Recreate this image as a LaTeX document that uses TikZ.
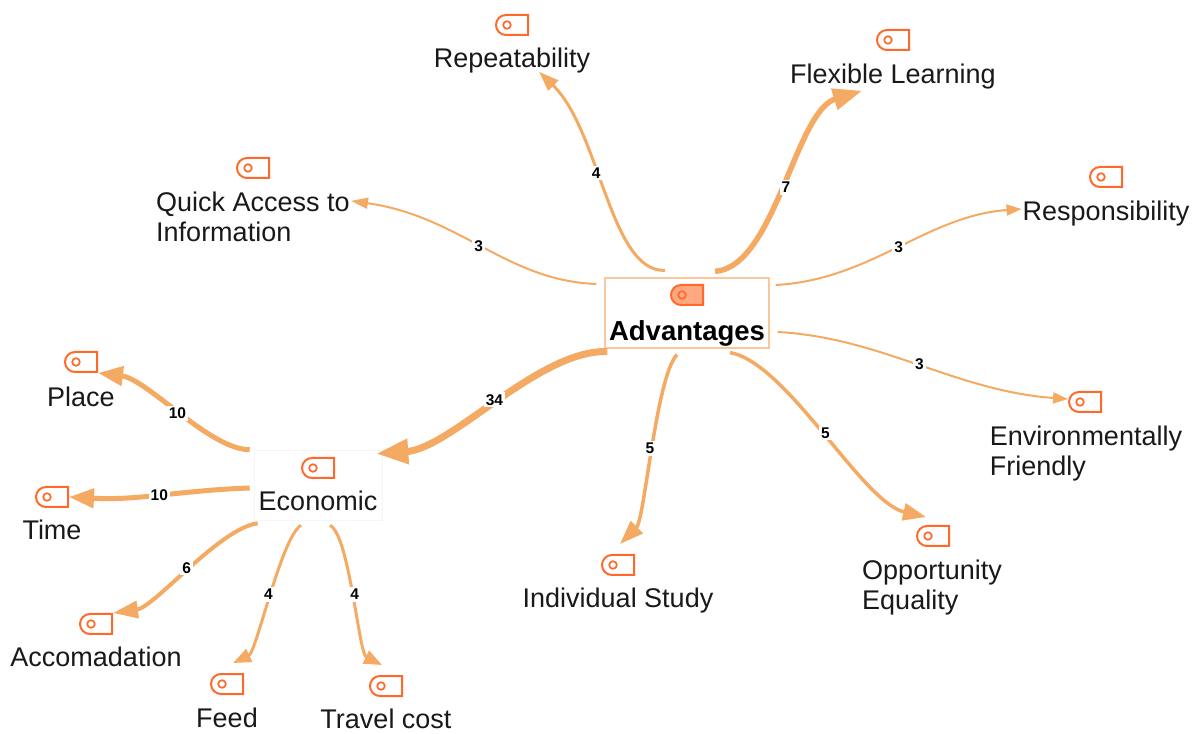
\documentclass[tikz,border=0pt]{standalone}
\usepackage{fontspec}
\setmainfont{Liberation Sans}
\usetikzlibrary{arrows.meta,shapes.misc}
\definecolor{linkcol}{HTML}{F4AA63}
\definecolor{tagcol}{HTML}{FF6A2B}
\definecolor{tagfill}{HTML}{FFA983}
\definecolor{boxcol}{HTML}{F8C89C}
\tikzset{
  topic/.style={font=\fontsize{27}{30}\selectfont, align=left, inner sep=1pt, text=black!90},
  mainbox/.style={draw=boxcol, line width=1.2pt, font=\fontsize{27.5}{30}\selectfont\bfseries, minimum width=164pt, inner xsep=2pt, inner ysep=2pt, text height=61pt, text depth=5pt},
  subbox/.style={draw=black!4, line width=.6pt, font=\fontsize{27}{30}\selectfont, minimum width=128pt, inner xsep=2pt, inner ysep=2pt, text height=59pt, text depth=7pt, text=black!90},
  tagicon/.style={rounded rectangle, rounded rectangle east arc=none, draw=tagcol, line width=2pt, minimum width=32pt, minimum height=20pt, inner sep=0pt,
    path picture={\draw[tagcol,line width=1.7pt] ([xshift=11pt]path picture bounding box.west) circle (3.8pt);}},
  link/.style n args={3}{draw=linkcol, line width=#1pt, -{Triangle[length=#2pt,width=#3pt]}},
  cnt/.style={fill=white, font=\fontsize{15.5}{15.5}\selectfont\bfseries, inner sep=2pt}
}
\begin{document}
\begin{tikzpicture}[x=1pt,y=1pt]
        \useasboundingbox (0,0) rectangle (1198,733);
        %% main topic
        \node[mainbox] (adv) at (687,420) {Advantages};
        \node[tagicon, fill=tagfill] (tagadv) at (687,438) {};
        %% economic topic
        \node[subbox] (eco) at (318,248) {Economic};
        \node[tagicon] (tageco) at (318,265) {};
        %% upper topics
        \node[topic] (repeat) at (512,672) {Repeatability};
        \node[tagicon] (tagrepeat) at (512,708) {};
        \node[topic] (flex) at (893,656) {Flexible Learning};
        \node[tagicon] (tagflex) at (893,693) {};
        \node[topic] (resp) at (1106,519) {Responsibility};
        \node[tagicon] (tagresp) at (1106,556) {};
        \node[topic] (quick) at (253,516) {Quick Access to\\Information};
        \node[tagicon] (tagquick) at (253,565) {};
        %% lower topics
        \node[topic] (env) at (1086,279) {Environmentally\\Friendly};
        \node[tagicon] (tagenv) at (1085,331) {};
        \node[topic] (opp) at (932,145) {Opportunity\\Equality};
        \node[tagicon] (tagopp) at (933,197) {};
        \node[topic] (study) at (618,132) {Individual Study};
        \node[tagicon] (tagstudy) at (618,168) {};
        %% economic leaves
        \node[topic] (place) at (81,336) {Place};
        \node[tagicon] (tagplace) at (81,371) {};
        \node[topic] (time) at (52,203) {Time};
        \node[tagicon] (tagtime) at (52,236) {};
        \node[topic] (accom) at (96,76) {Accomadation};
        \node[tagicon] (tagaccom) at (96,109) {};
        \node[topic] (feed) at (227,15) {Feed};
        \node[tagicon] (tagfeed) at (227,49) {};
        \node[topic] (travel) at (386,14) {Travel cost};
        \node[tagicon] (tagtravel) at (386,47) {};
        %% links from main topic
        \draw[link={2}{17}{11}] ([shift={(-8,29)}]adv.west) to[out=178,in=-8,out distance=90pt,in distance=110pt] node[cnt,pos=.51] {3} ([shift={(0,-10)}]quick.north east);
        \draw[link={3}{20}{14}] ([shift={(-22,7)}]adv.north) to[out=182,in=-44,out distance=55pt,in distance=85pt] node[cnt,pos=.58] {4} ([shift={(27,3)}]repeat.south);
        \draw[link={5.5}{29}{21}] ([shift={(28,6)}]adv.north) to[out=4,in=197,out distance=60pt,in distance=70pt] node[cnt,pos=.5] {7} ([xshift=-31pt]flex.south);
        \draw[link={2}{15}{11}] ([shift={(6,28)}]adv.east) to[out=3,in=184,out distance=95pt,in distance=95pt] node[cnt,pos=.5] {3} ([yshift=5pt]resp.west);
        \draw[link={2}{15}{11}] ([shift={(8,-19)}]adv.east) to[out=-3,in=176,out distance=103pt,in distance=112pt] node[cnt,pos=.5] {3} ([yshift=3pt]tagenv.west);
        \draw[link={3.5}{23}{17}] ([shift={(43,-4)}]adv.south) to[out=-10,in=167,out distance=58pt,in distance=66pt] node[cnt,pos=.5] {5} ([shift={(-1,8)}]tagopp.north west);
        \draw[link={3.5}{24}{17}] ([shift={(-10,-6)}]adv.south) to[out=226,in=45,out distance=30pt,in distance=35pt] node[cnt,pos=.5] {5} ([shift={(2,10)}]tagstudy.north);
        \draw[link={7}{32}{24}] ([shift={(3,-3)}]adv.south west) to[out=178,in=4,out distance=68pt,in distance=75pt] node[cnt,pos=.5] {34} ([shift={(-6,-4)}]eco.north east);
        %% links from economic
        \draw[link={5}{25}{19}] ([xshift=-4pt]eco.north west) to[out=180,in=-7,out distance=40pt,in distance=50pt] node[cnt,pos=.5] {10} (tagplace.south east);
        \draw[link={5}{25}{19}] ([shift={(-4,-3)}]eco.west) to[out=182,in=-3] node[cnt,pos=.5] {10} (tagtime.east);
        \draw[link={4}{25}{17}] ([shift={(4,-3)}]eco.south west) to[out=187,in=8,out distance=38pt,in distance=42pt] node[cnt,pos=.5] {6} (tagaccom.north east);
        \draw[link={3}{18}{14}] ([shift={(-17,-5)}]eco.south) to[out=211,in=25,out distance=23pt,in distance=26pt] node[cnt,pos=.5] {4} ([shift={(6,10)}]tagfeed.north);
        \draw[link={3}{18}{14}] ([shift={(12,-5)}]eco.south) to[out=-27,in=154,out distance=22pt,in distance=26pt] node[cnt,pos=.5] {4} ([shift={(-4,10)}]tagtravel.north);
    \end{tikzpicture}
\end{document}
